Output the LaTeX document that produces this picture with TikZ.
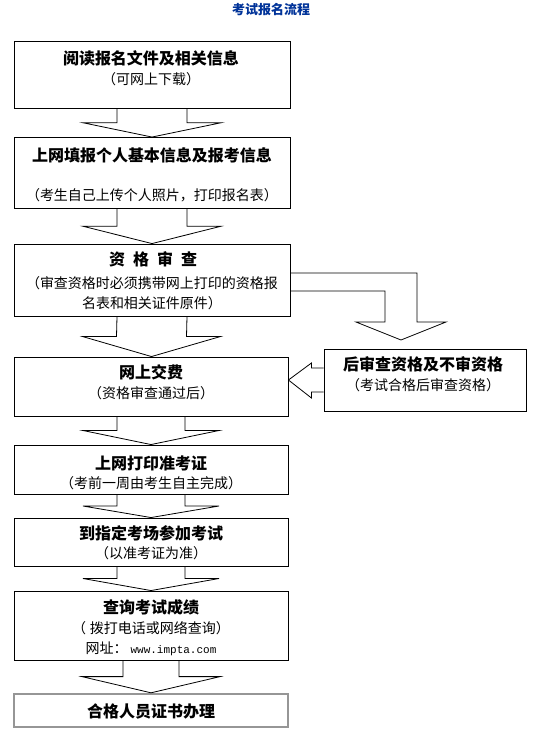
\documentclass[tikz,border=0pt]{standalone}
\usepackage{fontspec}
\setmainfont{Noto Sans CJK SC}
\setmonofont{Liberation Mono}
\usetikzlibrary{calc}
\definecolor{cTitle}{RGB}{0,51,153}
\definecolor{cFrame}{RGB}{150,150,150}
\tikzset{
  stepbox/.style={rectangle, draw=black, line width=0.9pt, inner sep=0pt},
  lastbox/.style={stepbox, draw=cFrame, line width=2.4pt},
  headtext/.style={font=\fontsize{16}{18}\selectfont\bfseries, inner sep=0pt},
  subtext/.style={font=\fontsize{14}{20}\selectfont, inner sep=0pt, align=center},
  blockarrow/.style={draw=black, line width=0.8pt, line join=miter}
}

\begin{document}
\begin{tikzpicture}[x=1pt, y=-1pt]
  \fill[white] (0,0) rectangle (536,734);
  \useasboundingbox (0,0) rectangle (536,734);

  % Title
  \node[font=\fontsize{13}{15}\selectfont\bfseries, text=cTitle] (title) at (271,10) {考试报名流程};

  % Step boxes
  \node[stepbox, minimum width=276pt, minimum height=67pt] (b1) at (152,74.5) {};
  \node[stepbox, minimum width=276pt, minimum height=71pt] (b2) at (152,173) {};
  \node[stepbox, minimum width=276pt, minimum height=72pt] (b3) at (152,280) {};
  \node[stepbox, minimum width=274pt, minimum height=59pt] (b4) at (151,386.5) {};
  \node[stepbox, minimum width=202pt, minimum height=62pt] (bR) at (425,380) {};
  \node[stepbox, minimum width=274pt, minimum height=49pt] (b5) at (151,469.5) {};
  \node[stepbox, minimum width=274pt, minimum height=48pt] (b6) at (151,542) {};
  \node[stepbox, minimum width=274pt, minimum height=69pt] (b7) at (151,625.5) {};
  \node[lastbox, minimum width=274pt, minimum height=33pt] (b8) at (151,710.5) {};

  % Box texts
  \node[headtext] (t1) at (151,58) {阅读报名文件及相关信息};
  \node[subtext] (s1) at (151,79) {（可网上下载）};
  \node[headtext] (t2) at (152,155.5) {上网填报个人基本信息及报考信息};
  \node[subtext] (s2) at (152,195) {（考生自己上传个人照片，打印报名表）};
  \node[headtext] (t3) at (153,259) {资\hspace{8pt}格\hspace{8pt}审\hspace{8pt}查};
  \node[subtext] (s3) at (152,293) {（审查资格时必须携带网上打印的资格报\\名表和相关证件原件）};
  \node[headtext] (t4) at (151,372) {网上交费};
  \node[subtext] (s4) at (151,393) {（资格审查通过后）};
  \node[headtext] (tR) at (423,364) {后审查资格及不审资格};
  \node[subtext] (sR) at (423,385) {（考试合格后审查资格）};
  \node[headtext] (t5) at (151,463) {上网打印准考证};
  \node[subtext] (s5) at (151,483.5) {（考前一周由考生自主完成）};
  \node[headtext] (t6) at (151,533.5) {到指定考场参加考试};
  \node[subtext] (s6) at (151,553.5) {（以准考证为准）};
  \node[headtext] (t7) at (151,607) {查询考试成绩};
  \node[subtext] (s7) at (151,628.5) {（\hspace{4pt}拨打电话或网络查询）};
  \node[subtext] (u7) at (151,649) {网址：\hspace{3pt}{\ttfamily\fontsize{11}{13}\selectfont www.impta.com}};
  \node[headtext] (t8) at (151,711) {合格人员证书办理};

  % Down arrows
  \foreach \a/\b/\s/\w in {b1/b2/35/69, b2/b3/35/69, b3/b4/35/69, b4/b5/34/68,
                           b5/b6/34/68, b6/b7/34/68, b7/b8/28/69} {
    \coordinate (m) at ($(\a.south)!0.5!(\b.north)$);
    \draw[blockarrow] ($(\a.south)+(-\s,0)$) -- ($(m)+(-\s,0)$) -- ($(m)+(-\w,0)$)
      -- (m |- \b.north) -- ($(m)+(\w,0)$) -- ($(m)+(\s,0)$) -- ($(\a.south)+(\s,0)$);
  }

  % Side arrow to the right box
  \coordinate (sidetip) at (401,340);
  \draw[blockarrow] ($(b3.east)+(0,-7)$) -| ($(sidetip)+(16,-18)$) -- ($(sidetip)+(45,-18)$)
    -- (sidetip) -- ($(sidetip)+(-45,-18)$) -- ($(sidetip)+(-16,-18)$) |- ($(b3.east)+(0,11)$);

  % Arrow back into payment box
  \coordinate (lefttip) at (b4.east |- bR.west);
  \draw[blockarrow] ($(bR.west)+(0,-12)$) -- ($(lefttip)+(23,-12)$) -- ($(lefttip)+(23,-17)$)
    -- (lefttip) -- ($(lefttip)+(23,18)$) -- ($(lefttip)+(23,12)$) -- ($(bR.west)+(0,12)$);
\end{tikzpicture}
\end{document}
